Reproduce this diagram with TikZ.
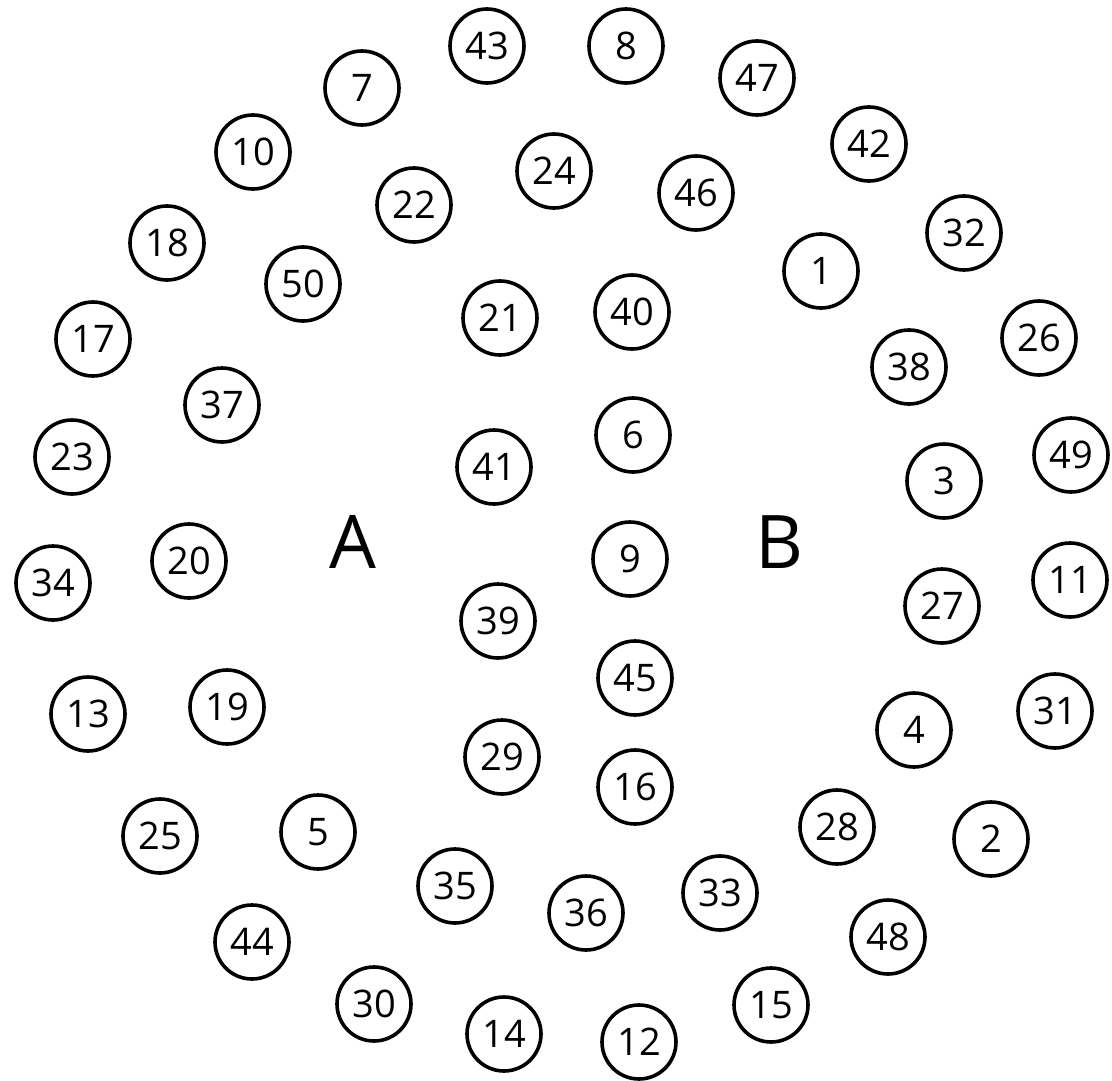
\documentclass[tikz,border=0pt]{standalone}
\usepackage{fontspec}
\setmainfont{Open Sans}
\usepackage{tikz}
\usetikzlibrary{positioning}

\begin{document}
\begin{tikzpicture}[
  x=1pt, y=-1pt,
  ball/.style={
    circle, draw=black, line width=3.6pt,
    minimum size=74pt, inner sep=0pt,
    font=\fontsize{38}{38}\selectfont
  },
  side/.style={
    font=\fontsize{74}{74}\selectfont, inner sep=0pt
  }
]
\useasboundingbox (0,0) rectangle (1112,1081);

% outer and inner rings of numbered balls
\foreach \n/\px/\py in {
   43/487/46,   8/626/46,  47/757/78,   7/362/88,  42/869/144,
   10/253/152, 24/554/171, 46/696/193, 22/414/205, 32/964/233,
   18/167/243,  1/821/271, 50/303/284, 21/500/318, 40/632/312,
   17/93/339,  26/1039/338, 38/909/367, 37/222/405,  6/633/435,
   41/494/467, 23/72/457,  49/1071/455, 3/944/481, 20/189/561,
    9/630/559, 34/53/583,  11/1070/580, 27/942/606, 39/498/621,
   45/635/678, 13/88/714,  19/227/707, 31/1055/711, 4/914/730,
   29/502/757, 16/635/787, 28/837/827,  2/991/839, 25/160/836,
    5/318/832, 35/455/886, 33/720/893, 36/586/913, 48/888/937,
   44/252/942, 30/374/1004, 15/771/1005, 14/504/1034, 12/639/1042}
  \node[ball] (n\n) at (\px,\py) {\n};

\node[side] (groupA) at (353,542) {A};
\node[side] (groupB) at (779,542) {B};
\end{tikzpicture}
\end{document}
